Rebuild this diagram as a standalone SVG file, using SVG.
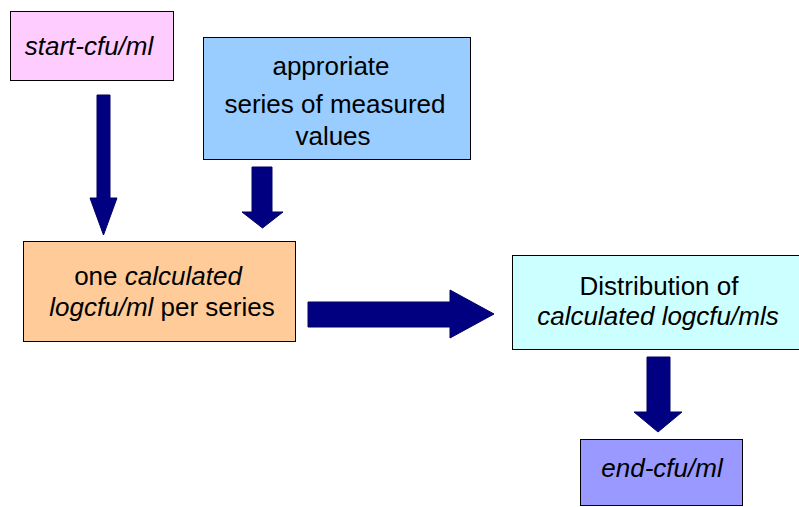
<svg xmlns="http://www.w3.org/2000/svg" width="799" height="507" viewBox="0 0 799 507">
<style>
.box{stroke:#000;stroke-width:1}
.t{font-family:"Liberation Sans",Arial,sans-serif;font-size:26px;fill:#000;text-anchor:middle}
.i{font-style:italic}
.arr{fill:#000080;stroke:#000066;stroke-width:1}
</style>
<rect width="799" height="507" fill="#fff"/>
<g id="connectors">
<path class="arr" d="M97,95 H110 V198 H117 L103.5,235 L90,198 H97 Z"/>
<path class="arr" d="M252,167 H272 V212 H283 L262.5,228 L242,212 H252 Z"/>
<path class="arr" d="M308,302 H450 V290 L494,314 L450,338 V327 H308 Z"/>
<path class="arr" d="M647,357 H670 V412 H682 L658,432 L634,412 H647 Z"/>
</g>
<g id="start">
<rect class="box" x="10.5" y="11.5" width="163" height="69" fill="#ffccff"/>
<text class="t i" x="89" y="55">start-cfu/ml</text>
</g>
<g id="series">
<rect class="box" x="203.5" y="37.5" width="267" height="122" fill="#99ccff"/>
<text class="t" x="331" y="75">approriate</text>
<text class="t" x="335" y="113">series of measured</text>
<text class="t" x="333" y="145">values</text>
</g>
<g id="calculated">
<rect class="box" x="23.5" y="241.5" width="272" height="100" fill="#ffcc99"/>
<text class="t" x="158" y="285">one <tspan class="i">calculated</tspan></text>
<text class="t" x="162" y="316"><tspan class="i">logcfu/ml</tspan> per series</text>
</g>
<g id="distribution">
<rect class="box" x="512.5" y="255.5" width="300" height="94" fill="#ccffff"/>
<text class="t" x="659" y="295">Distribution of</text>
<text class="t i" x="658" y="325">calculated logcfu/mls</text>
</g>
<g id="end">
<rect class="box" x="580.5" y="439.5" width="162" height="66" fill="#9999ff"/>
<text class="t i" x="662" y="477">end-cfu/ml</text>
</g>
</svg>
